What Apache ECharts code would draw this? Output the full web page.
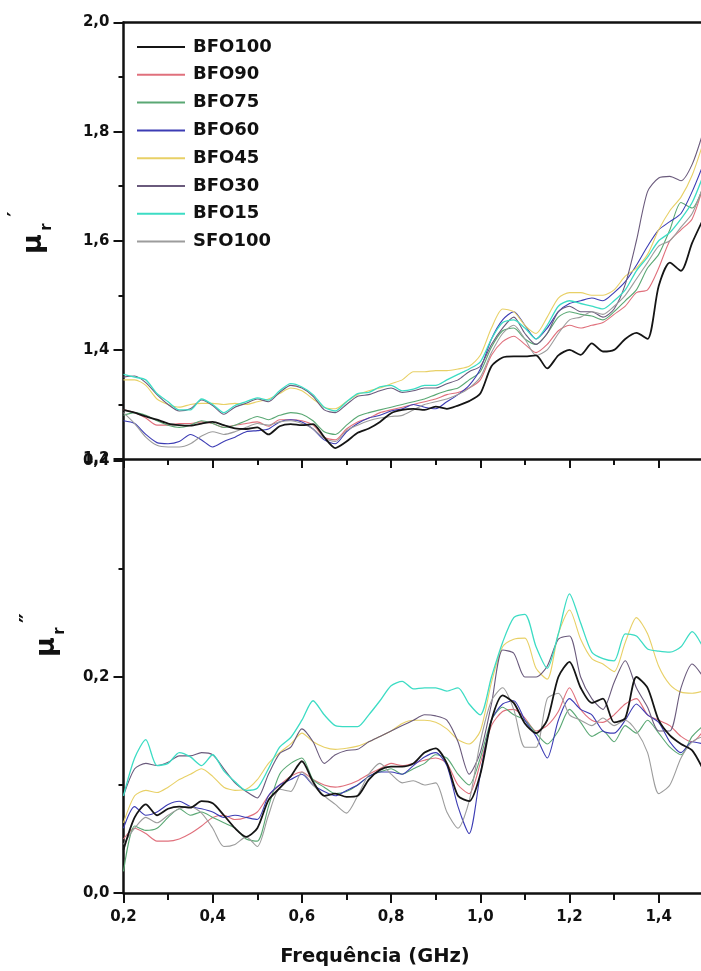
<!DOCTYPE html>
<html>
<head>
<meta charset="utf-8">
<script src="https://cdn.jsdelivr.net/npm/echarts@6/dist/echarts.min.js"></script>
<style>
html,body{margin:0;padding:0;background:#fff;}
#chart{width:701px;height:971px;}
</style>
</head>
<body>
<div id="chart"></div>
<script>
// Frequency (GHz)
const freq = [0.2,0.225,0.25,0.275,0.3,0.325,0.35,0.375,0.4,0.425,
  0.45,0.475,0.5,0.525,0.55,0.575,0.6,0.625,0.65,0.675,
  0.7,0.725,0.75,0.775,0.8,0.825,0.85,0.875,0.9,0.925,
  0.95,0.975,1.0,1.025,1.05,1.075,1.1,1.125,1.15,1.175,
  1.2,1.225,1.25,1.275,1.3,1.325,1.35,1.375,1.4,1.425,
  1.45,1.475,1.5];

const names = ['BFO100','BFO90','BFO75','BFO60','BFO45','BFO30','BFO15','SFO100'];

// mu_r' (real part)
const re_BFO100 = [1.29,1.285,1.278,1.272,1.265,1.262,1.261,1.265,1.268,1.262,
 1.256,1.255,1.258,1.245,1.26,1.264,1.262,1.264,1.24,1.22,
 1.232,1.248,1.256,1.268,1.284,1.29,1.292,1.29,1.296,1.292,
 1.298,1.306,1.32,1.37,1.386,1.388,1.388,1.39,1.366,1.39,
 1.40,1.391,1.412,1.397,1.40,1.42,1.431,1.42,1.517,1.56,
 1.545,1.596,1.64];
const re_BFO90 = [1.29,1.285,1.275,1.262,1.262,1.265,1.265,1.268,1.265,1.258,
 1.262,1.265,1.268,1.26,1.272,1.272,1.27,1.262,1.24,1.235,
 1.255,1.268,1.275,1.285,1.29,1.295,1.3,1.305,1.31,1.318,
 1.322,1.33,1.345,1.39,1.415,1.425,1.41,1.395,1.41,1.435,
 1.445,1.44,1.445,1.45,1.465,1.48,1.505,1.51,1.55,1.6,
 1.62,1.64,1.7];
const re_BFO75 = [1.28,1.285,1.28,1.27,1.262,1.258,1.262,1.27,1.265,1.258,
 1.262,1.27,1.278,1.272,1.28,1.285,1.282,1.27,1.25,1.245,
 1.262,1.278,1.285,1.29,1.295,1.3,1.305,1.31,1.318,1.325,
 1.33,1.345,1.36,1.405,1.435,1.44,1.42,1.41,1.43,1.46,
 1.47,1.465,1.462,1.455,1.47,1.49,1.51,1.55,1.575,1.62,
 1.67,1.66,1.7];
const re_BFO60 = [1.27,1.265,1.245,1.23,1.228,1.232,1.245,1.235,1.222,1.232,
 1.24,1.25,1.252,1.255,1.268,1.272,1.268,1.255,1.235,1.228,
 1.25,1.265,1.275,1.28,1.288,1.292,1.3,1.295,1.292,1.305,
 1.318,1.335,1.365,1.42,1.455,1.47,1.445,1.42,1.44,1.47,
 1.485,1.49,1.495,1.49,1.505,1.525,1.555,1.59,1.62,1.635,
 1.65,1.69,1.74];
const re_BFO45 = [1.345,1.345,1.335,1.31,1.3,1.295,1.3,1.302,1.302,1.3,
 1.302,1.3,1.305,1.31,1.32,1.33,1.325,1.31,1.295,1.292,
 1.305,1.318,1.325,1.33,1.338,1.345,1.36,1.36,1.362,1.362,
 1.365,1.37,1.39,1.44,1.475,1.47,1.445,1.43,1.46,1.495,
 1.505,1.505,1.5,1.5,1.51,1.535,1.55,1.575,1.62,1.655,
 1.68,1.72,1.78];
const re_BFO30 = [1.35,1.352,1.34,1.318,1.3,1.288,1.292,1.308,1.298,1.282,
 1.295,1.302,1.31,1.305,1.322,1.335,1.33,1.315,1.29,1.285,
 1.3,1.315,1.318,1.325,1.33,1.322,1.325,1.33,1.33,1.338,
 1.345,1.36,1.37,1.41,1.44,1.46,1.43,1.41,1.43,1.47,
 1.48,1.47,1.47,1.46,1.475,1.52,1.6,1.69,1.715,1.718,
 1.71,1.74,1.8];
const re_BFO15 = [1.355,1.35,1.345,1.32,1.305,1.29,1.29,1.31,1.3,1.285,
 1.298,1.305,1.312,1.308,1.325,1.338,1.332,1.318,1.295,1.288,
 1.305,1.32,1.322,1.332,1.335,1.325,1.328,1.335,1.335,1.345,
 1.355,1.365,1.378,1.42,1.45,1.455,1.44,1.42,1.445,1.48,
 1.49,1.485,1.48,1.475,1.49,1.51,1.545,1.57,1.6,1.615,
 1.64,1.67,1.72];
const re_SFO100 = [1.285,1.265,1.24,1.225,1.222,1.222,1.228,1.242,1.25,1.245,
 1.25,1.258,1.265,1.262,1.268,1.27,1.265,1.255,1.238,1.232,
 1.252,1.262,1.27,1.275,1.278,1.28,1.29,1.3,1.305,1.31,
 1.318,1.33,1.35,1.395,1.43,1.445,1.42,1.39,1.4,1.43,
 1.455,1.46,1.47,1.465,1.48,1.5,1.53,1.56,1.59,1.6,
 1.625,1.65,1.7];

// mu_r'' (imaginary part)
const im_BFO100 = [0.04,0.07,0.082,0.072,0.078,0.08,0.079,0.085,0.083,0.072,
 0.06,0.052,0.06,0.086,0.097,0.108,0.122,0.103,0.09,0.092,
 0.089,0.09,0.105,0.114,0.117,0.117,0.12,0.13,0.134,0.12,
 0.09,0.085,0.11,0.16,0.183,0.176,0.157,0.148,0.16,0.2,
 0.214,0.19,0.176,0.18,0.158,0.162,0.2,0.19,0.16,0.146,
 0.138,0.132,0.114];
const im_BFO90 = [0.05,0.06,0.055,0.048,0.048,0.05,0.055,0.062,0.07,0.072,
 0.068,0.07,0.075,0.09,0.1,0.108,0.112,0.105,0.1,0.098,
 0.1,0.104,0.11,0.115,0.12,0.118,0.12,0.123,0.125,0.12,
 0.1,0.092,0.12,0.155,0.168,0.17,0.162,0.15,0.155,0.168,
 0.19,0.17,0.16,0.158,0.165,0.175,0.18,0.165,0.16,0.155,
 0.145,0.14,0.15];
const im_BFO75 = [0.02,0.062,0.058,0.06,0.07,0.078,0.072,0.075,0.07,0.065,
 0.06,0.05,0.048,0.08,0.11,0.12,0.125,0.105,0.098,0.092,
 0.094,0.1,0.108,0.112,0.115,0.11,0.115,0.12,0.128,0.125,
 0.11,0.1,0.125,0.16,0.172,0.165,0.16,0.148,0.138,0.15,
 0.17,0.158,0.145,0.15,0.14,0.155,0.148,0.16,0.148,0.135,
 0.128,0.145,0.155];
const im_BFO60 = [0.06,0.08,0.072,0.075,0.082,0.085,0.08,0.078,0.075,0.07,
 0.072,0.07,0.068,0.09,0.1,0.105,0.11,0.1,0.094,0.09,
 0.095,0.1,0.108,0.112,0.112,0.11,0.118,0.126,0.13,0.118,
 0.08,0.055,0.11,0.16,0.175,0.178,0.16,0.145,0.125,0.16,
 0.18,0.17,0.165,0.15,0.148,0.16,0.175,0.165,0.158,0.14,
 0.13,0.14,0.138];
const im_BFO45 = [0.065,0.09,0.095,0.093,0.098,0.105,0.11,0.115,0.108,0.098,
 0.095,0.096,0.105,0.12,0.13,0.138,0.148,0.14,0.135,0.133,
 0.134,0.136,0.14,0.145,0.15,0.157,0.16,0.16,0.158,0.152,
 0.142,0.138,0.15,0.195,0.228,0.235,0.236,0.208,0.198,0.24,
 0.262,0.235,0.217,0.212,0.205,0.232,0.255,0.24,0.21,0.193,
 0.186,0.185,0.187];
const im_BFO30 = [0.09,0.115,0.12,0.118,0.121,0.127,0.127,0.13,0.128,0.115,
 0.102,0.094,0.088,0.11,0.129,0.135,0.152,0.14,0.12,0.128,
 0.132,0.133,0.14,0.145,0.15,0.155,0.16,0.165,0.164,0.16,
 0.14,0.11,0.13,0.175,0.225,0.222,0.2,0.2,0.21,0.235,
 0.238,0.2,0.18,0.17,0.195,0.215,0.19,0.172,0.15,0.15,
 0.19,0.212,0.2];
const im_BFO15 = [0.09,0.125,0.142,0.118,0.12,0.13,0.126,0.118,0.128,0.113,
 0.103,0.095,0.097,0.115,0.135,0.144,0.16,0.178,0.165,0.155,
 0.154,0.154,0.165,0.178,0.192,0.196,0.189,0.19,0.19,0.187,
 0.19,0.175,0.165,0.2,0.232,0.255,0.258,0.228,0.208,0.24,
 0.277,0.25,0.223,0.217,0.215,0.24,0.238,0.226,0.224,0.223,
 0.228,0.242,0.227];
const im_SFO100 = [0.045,0.06,0.07,0.065,0.072,0.078,0.08,0.074,0.06,0.043,
 0.045,0.052,0.043,0.072,0.096,0.094,0.112,0.1,0.09,0.082,
 0.074,0.09,0.11,0.12,0.11,0.102,0.104,0.1,0.102,0.075,
 0.06,0.085,0.14,0.178,0.19,0.17,0.135,0.135,0.18,0.185,
 0.165,0.16,0.155,0.162,0.155,0.16,0.15,0.13,0.092,0.1,
 0.125,0.14,0.145];

const xTicks = [0.2,0.4,0.6,0.8,1.0,1.2,1.4];
const reTicks = [1.2,1.4,1.6,1.8,2.0];
const imTicks = [0.0,0.2,0.4];

const reSeries = [re_BFO100,re_BFO90,re_BFO75,re_BFO60,re_BFO45,re_BFO30,re_BFO15,re_SFO100];
const imSeries = [im_BFO100,im_BFO90,im_BFO75,im_BFO60,im_BFO45,im_BFO30,im_BFO15,im_SFO100];
const colors = ['#151515','#e0707c','#5aa874','#3c3cb4','#e8d066','#6a5a7c','#3cdcc4','#9c9c9c'];
const widths = [1.8,1.1,1.1,1.1,1.1,1.1,1.3,1.1];

const FONT = 'DejaVu Sans';
const comma = v => (Math.round(v*10)/10).toFixed(1).replace('.', ',');

const chart = echarts.init(document.getElementById('chart'), null, {renderer:'canvas'});

function pairs(arr){ return freq.map((f,i)=>[f, arr[i]]); }

const series = [];
reSeries.forEach((arr,i)=>{
  series.push({name:names[i], type:'line', xAxisIndex:0, yAxisIndex:0, data:pairs(arr),
    symbol:'none', smooth:0.25, color:colors[i], lineStyle:{width:widths[i], color:colors[i]}, z: i===0?5:3});
});
imSeries.forEach((arr,i)=>{
  series.push({name:names[i], type:'line', xAxisIndex:2, yAxisIndex:1, data:pairs(arr),
    symbol:'none', smooth:0.25, color:colors[i], lineStyle:{width:widths[i], color:colors[i]}, z: i===0?5:3});
});

const axisLineStyle = {color:'#111', width:2.5};
const gridLeft = 123.5;
const gridWidth = 1.4*446; // 0.2 .. 1.6 GHz, right part lies off-canvas

function xAx(grid, pos, showLabel, tickLen, minorLen){
  return {type:'value', gridIndex:grid, position:pos, min:0.2, max:1.6, interval:0.2,
    axisLine:{show:true, onZero:false, lineStyle:axisLineStyle},
    axisTick:{show:tickLen>0, inside:false, length:tickLen, lineStyle:{color:'#111', width:2}},
    minorTick:{show:minorLen>0, splitNumber:2, length:minorLen, lineStyle:{color:'#111', width:2}},
    splitLine:{show:false},
    axisLabel:{show:showLabel, formatter:comma, margin:17, color:'#111',
      fontFamily:FONT, fontWeight:'bold', fontSize:15}
  };
}

const option = {
  backgroundColor:'#ffffff',
  animation:false,
  grid:[
    {left:gridLeft, width:gridWidth, top:22.5, height:436.5, outerBoundsMode:'none', containLabel:false},
    {left:gridLeft, width:gridWidth, top:461, height:432, outerBoundsMode:'none', containLabel:false}
  ],
  xAxis:[
    xAx(0,'bottom',false,9,6),
    xAx(0,'top',false,0,0),
    xAx(1,'bottom',true,10,7)
  ],
  yAxis:[
    {type:'value', gridIndex:0, min:1.2, max:2.0, interval:0.2,
      axisLine:{show:true, onZero:false, lineStyle:axisLineStyle},
      axisTick:{show:true, length:10, lineStyle:{color:'#111', width:2}},
      minorTick:{show:true, splitNumber:2, length:5, lineStyle:{color:'#111', width:2}},
      splitLine:{show:false},
      axisLabel:{formatter:comma, margin:14, color:'#111', fontFamily:FONT, fontWeight:'bold', fontSize:15}
    },
    {type:'value', gridIndex:1, min:0, max:0.4, interval:0.2,
      axisLine:{show:true, onZero:false, lineStyle:axisLineStyle},
      axisTick:{show:true, length:10, lineStyle:{color:'#111', width:2}},
      minorTick:{show:true, splitNumber:2, length:5, lineStyle:{color:'#111', width:2}},
      splitLine:{show:false},
      axisLabel:{formatter:comma, margin:14, color:'#111', fontFamily:FONT, fontWeight:'bold', fontSize:15}
    }
  ],
  legend:{
    data:names, orient:'vertical', left:137, top:38, padding:0,
    itemWidth:48, itemHeight:2, itemGap:9.8, icon:'rect',
    textStyle:{fontFamily:FONT, fontWeight:'bold', fontSize:18, color:'#111', lineHeight:18, padding:[0,0,0,3]},
    selectedMode:false
  },
  graphic:[
    {type:'text', x:375, y:957, style:{text:'Frequência (GHz)', font:'bold 19.5px "DejaVu Sans"', fill:'#111', align:'center', verticalAlign:'middle'}},
    // mu_r'
    {type:'text', x:34, y:244, rotation:Math.PI/2, style:{text:'μ', font:'bold 27px "DejaVu Sans"', fill:'#111', align:'center', verticalAlign:'middle'}},
    {type:'text', x:47, y:227, rotation:Math.PI/2, style:{text:'r', font:'bold 15px "DejaVu Sans"', fill:'#111', align:'center', verticalAlign:'middle'}},
    {type:'text', x:16, y:214, rotation:Math.PI/2, style:{text:'′', font:'bold 20px "DejaVu Sans"', fill:'#111', align:'center', verticalAlign:'middle'}},
    // mu_r''
    {type:'text', x:47, y:647, rotation:Math.PI/2, style:{text:'μ', font:'bold 27px "DejaVu Sans"', fill:'#111', align:'center', verticalAlign:'middle'}},
    {type:'text', x:60, y:631, rotation:Math.PI/2, style:{text:'r', font:'bold 15px "DejaVu Sans"', fill:'#111', align:'center', verticalAlign:'middle'}},
    {type:'text', x:29, y:618, rotation:Math.PI/2, style:{text:'″', font:'bold 22px "DejaVu Sans"', fill:'#111', align:'center', verticalAlign:'middle'}}
  ],
  series:series
};
chart.setOption(option);
</script>
</body>
</html>
